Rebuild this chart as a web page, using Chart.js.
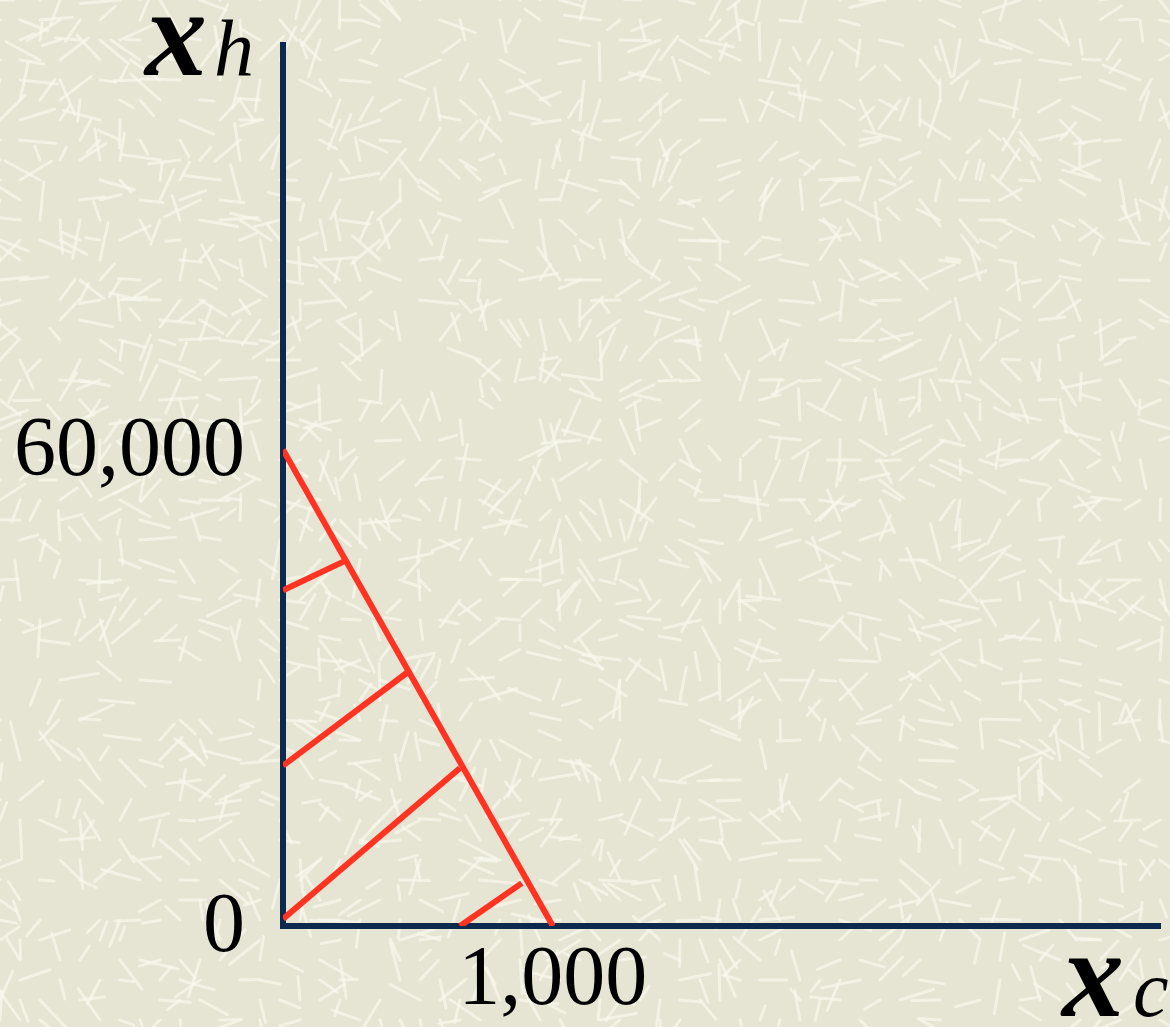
<!DOCTYPE html>
<html>
<head>
<meta charset="utf-8">
<script src="https://cdn.jsdelivr.net/npm/chart.js@4"></script>
<style>
  html, body { margin: 0; padding: 0; background: #e6e5d4; }
  #wrap { width: 1170px; height: 1027px; position: relative; }
</style>
</head>
<body>
<div id="wrap"><canvas id="chart" width="1170" height="1027"></canvas></div>
<script>
// budget line: 1,000 units of x_c or 60,000 units of x_h
const budgetX = [0, 1000];
const budgetY = [60000, 0];

// hatching under the budget line (start -> end of each stroke)
const hatchStartX = [0, 0, 0, 656];
const hatchStartY = [42300, 20200, 900, 0];
const hatchEndX = [230, 463, 656, 885];
const hatchEndY = [46000, 32000, 19900, 5400];

// tick labels shown
const xTicks = [1000];
const yTicks = [0, 60000];

const NAVY = '#0c2a4e';
const RED = '#ff3322';
const serif = "'Liberation Serif', 'Times New Roman', serif";

function pts(xs, ys) {
    return xs.map((x, i) => ({ x: x, y: ys[i] }));
}

const datasets = [{
    data: pts(budgetX, budgetY),
    borderColor: RED,
    borderWidth: 6,
    pointRadius: 0,
    showLine: true
}];
hatchStartX.forEach((sx, i) => {
    datasets.push({
        data: [{ x: sx, y: hatchStartY[i] }, { x: hatchEndX[i], y: hatchEndY[i] }],
        borderColor: RED,
        borderWidth: 6,
        pointRadius: 0,
        showLine: true
    });
});

// faint paper texture behind the chart (fixed pattern, not data)
const paper = {
    id: 'paper',
    beforeDraw(chart) {
        const ctx = chart.ctx;
        ctx.save();
        ctx.fillStyle = '#e6e5d4';
        ctx.fillRect(0, 0, chart.width, chart.height);
        ctx.strokeStyle = 'rgba(248, 248, 236, 0.7)';
        ctx.lineWidth = 3;
        ctx.lineCap = 'round';
        for (let gy = 0; gy < chart.height; gy += 20) {
            for (let gx = 0; gx < chart.width; gx += 20) {
                const h = Math.abs(Math.sin(gx * 12.9898 + gy * 78.233) * 43758.5453) % 1;
                if (h > 0.6) continue;
                const ang = h * 11.4;
                const len = 14 + (h * 97 % 1) * 26;
                ctx.beginPath();
                ctx.moveTo(gx, gy);
                ctx.lineTo(gx + Math.cos(ang) * len, gy + Math.sin(ang) * len);
                ctx.stroke();
            }
        }
        ctx.restore();
    }
};

// axis names with subscripts, placed from the chart area
const axisNames = {
    id: 'axisNames',
    afterDraw(chart) {
        const ctx = chart.ctx;
        const a = chart.chartArea;
        ctx.save();
        ctx.fillStyle = '#000';
        ctx.textBaseline = 'alphabetic';
        ctx.textAlign = 'left';
        // x_h at the top of the vertical axis
        ctx.font = 'italic bold 124px ' + serif;
        ctx.fillText('x', a.left - 138, 75);
        ctx.font = 'italic 80px ' + serif;
        ctx.fillText('h', a.left - 69, 75);
        // x_c at the end of the horizontal axis
        ctx.font = 'italic bold 124px ' + serif;
        ctx.fillText('x', a.right - 98, a.bottom + 90);
        ctx.font = 'italic 80px ' + serif;
        ctx.fillText('c', a.right - 27, a.bottom + 90);
        ctx.restore();
    }
};

new Chart(document.getElementById('chart'), {
    type: 'scatter',
    data: { datasets: datasets },
    options: {
        responsive: false,
        animation: false,
        layout: { padding: { top: 45, right: 10, left: 0, bottom: 0 } },
        plugins: { legend: { display: false }, tooltip: { enabled: false } },
        scales: {
            x: {
                type: 'linear',
                min: 0,
                max: 3250,
                afterFit: s => { s.height = 101; s.paddingLeft = 0; s.paddingRight = 0; },
                afterBuildTicks: s => { s.ticks = xTicks.map(v => ({ value: v })); },
                grid: { display: false, drawTicks: false },
                border: { display: true, color: NAVY, width: 6 },
                ticks: {
                    color: '#000',
                    padding: 6,
                    maxRotation: 0,
                    font: { family: serif, size: 84 },
                    callback: v => v.toLocaleString('en-US')
                }
            },
            y: {
                type: 'linear',
                min: 0,
                max: 111000,
                afterFit: s => { s.width = 283; s.paddingTop = 0; s.paddingBottom = 0; },
                afterBuildTicks: s => { s.ticks = yTicks.map(v => ({ value: v })); },
                grid: { display: false, drawTicks: false },
                border: { display: true, color: NAVY, width: 6 },
                ticks: {
                    color: '#000',
                    padding: 38,
                    labelOffset: 3,
                    font: { family: serif, size: 84 },
                    callback: v => v.toLocaleString('en-US')
                }
            }
        }
    },
    plugins: [paper, axisNames]
});
</script>
</body>
</html>
